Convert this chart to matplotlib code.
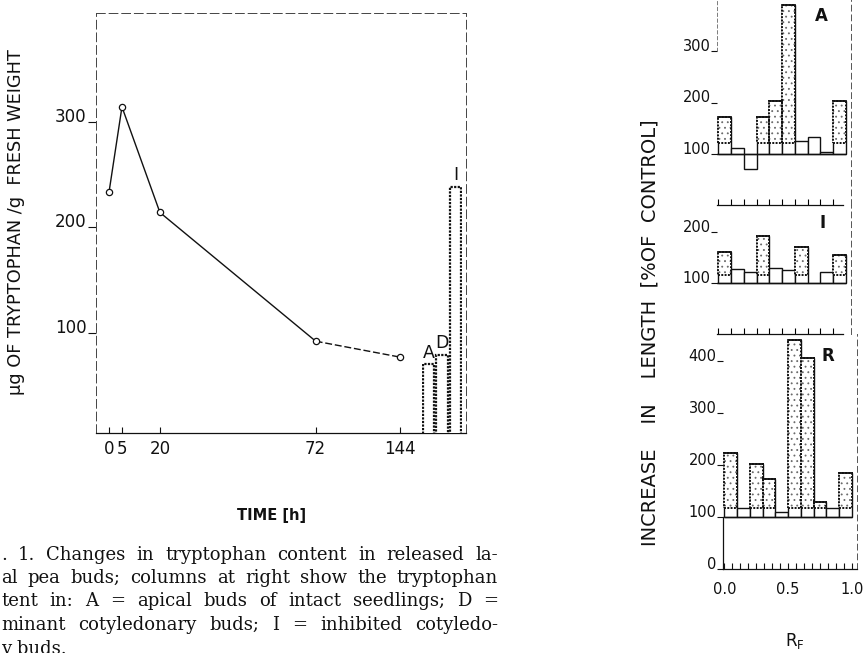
import numpy as np
import matplotlib
matplotlib.use("Agg")
from matplotlib import pyplot as plt

W, H = 865, 653

# left chart: tryptophan content of released buds
times = [0, 5, 20, 72, 144]
time_labels = ["0", "5", "20", "72", "144"]
tryptophan = [233, 314, 214, 92, 77]
bud_names = ["A", "D", "I"]
bud_tryptophan = [70, 79, 238]

# right chart: growth test of Rf zones, % of control
rf_zone = [0.0, 0.1, 0.2, 0.3, 0.4, 0.5, 0.6, 0.7, 0.8, 0.9]
apical = [172, 112, 71, 172, 202, 390, 124, 133, 104, 202]
apical_sig = [1, 0, 0, 1, 1, 1, 0, 0, 0, 1]
apical_limit = 121
inhibited = [161, 127, 122, 193, 130, 125, 171, 100, 121, 155]
inhibited_sig = [1, 0, 0, 1, 0, 0, 1, 0, 0, 1]
inhibited_limit = 116
released = [223, 117, 202, 173, 110, 440, 406, 129, 117, 185]
released_sig = [1, 0, 1, 1, 0, 1, 1, 1, 0, 1]
released_limit = 117

caption = [
    ". 1. Changes in tryptophan content in released la-",
    "al pea buds; columns at right show the tryptophan",
    "tent in: A = apical buds of intact seedlings; D =",
    "minant cotyledonary buds; I = inhibited cotyledo-",
]
caption_last = "y buds."

plt.rcParams["font.family"] = ["DejaVu Sans"]
plt.rcParams["hatch.linewidth"] = 0.6
INK = "#111111"


def box(l, t, r, b):
    return [l / W, 1 - b / H, (r - l) / W, (b - t) / H]


def baseline_labels(ax):
    # "300_" style: tick sits at the baseline of the label
    for lab in ax.get_yticklabels():
        lab.set_verticalalignment("baseline")


fig = plt.figure(figsize=(W / 100, H / 100), dpi=100)

# ---------------- left chart ----------------
T_KNOTS = [-5, 0, 5, 20, 72, 144, 202]
U_KNOTS = [0, 13, 26, 64, 220, 304, 371.7]


def fwd(t):
    return np.interp(t, T_KNOTS, U_KNOTS)


def inv(u):
    return np.interp(u, U_KNOTS, T_KNOTS)


ax = fig.add_axes(box(96, 13, 466, 433))
ax.set_xscale("function", functions=(fwd, inv))
ax.set_xlim(-5, 201)
ax.set_ylim(5, 403)

ax.plot(times[:4], tryptophan[:4], color=INK, lw=1.0)
ax.plot(times[3:], tryptophan[3:], color=INK, lw=1.0, ls=(0, (5, 2)))
ax.plot(times, tryptophan, ls="none", marker="o", ms=4.5, mfc="white",
        mec=INK, mew=0.9, zorder=3)

ax.set_xticks(times, time_labels)
ax.set_yticks([100, 200, 300])
ax.tick_params(axis="x", direction="in", length=4, width=0.8, pad=5,
               labelsize=12, colors=INK)
ax.tick_params(axis="y", direction="out", length=6, width=0.8, pad=1,
               labelsize=12, colors=INK)
baseline_labels(ax)
for side in ["top", "right", "left"]:
    ax.spines[side].set_linestyle((0, (9, 4)))
    ax.spines[side].set_linewidth(0.7)
    ax.spines[side].set_color("#444444")
ax.spines["bottom"].set_linewidth(0.9)
ax.spines["bottom"].set_color(INK)

ax.set_ylabel("µg OF TRYPTOPHAN /g  FRESH WEIGHT", fontsize=12.8, color=INK)
ax.yaxis.set_label_coords((25 - 96) / 370, (433 - 222) / 420)
ax.set_xlabel("TIME [h]", fontsize=10.5, fontweight="bold", color=INK)
ax.xaxis.set_label_coords((272 - 96) / 370, -(508 - 433) / 420)

# columns for bud types, on their own little category axis
bx = fig.add_axes(box(422, 13, 462, 433), sharey=ax)
bx.set_xlim(-0.5, 2.5)
bars = bx.bar(bud_names, bud_tryptophan, width=0.85, facecolor="white",
              edgecolor=INK, lw=1.6, ls=(0, (1, 0.6)))
for rect, name in zip(bars, bud_names):
    bx.annotate(name, (rect.get_x() + rect.get_width() / 2, rect.get_height()),
                xytext=(0, 2), textcoords="offset points", ha="center",
                va="bottom", fontsize=12.5, color=INK)
bx.axis("off")


# ---------------- right chart ----------------
def rf_panel(rect, vals, sig, limit, ymax, yticks, letter, letter_xy, left_ctrl):
    p = fig.add_axes(rect)
    p.set_xlim(-0.01, 1.04)
    p.set_ylim(0, ymax)
    p.patch.set_alpha(0)
    p.bar(rf_zone, np.array(vals) - 100, bottom=100, width=0.1, align="edge",
          facecolor="white", edgecolor=INK, lw=1.0, zorder=2)
    for x, v, s in zip(rf_zone, vals, sig):
        if s and v > limit:
            p.bar(x, v - limit, bottom=limit, width=0.1, align="edge",
                  facecolor="white", edgecolor="#6a6a6a", hatch="...", lw=0,
                  zorder=3)
            p.bar(x, v - limit, bottom=limit, width=0.1, align="edge",
                  fill=False, edgecolor=INK, lw=1.4, ls=(0, (1, 0.7)), zorder=4)
            p.plot([x, x + 0.1], [v, v], color=INK, lw=1.3, zorder=5)
    p.hlines(100, left_ctrl, 1.0, color=INK, lw=1.0, zorder=5)
    p.set_yticks(yticks)
    p.tick_params(axis="y", direction="out", length=4, width=0.8, pad=0.5,
                  labelsize=10.5, colors=INK)
    baseline_labels(p)
    p.spines["top"].set_visible(False)
    p.spines["right"].set_linestyle((0, (6, 4)))
    p.spines["right"].set_linewidth(0.7)
    p.spines["right"].set_color("#555555")
    p.spines["bottom"].set_color(INK)
    p.spines["bottom"].set_linewidth(0.9)
    fig.text(letter_xy[0] / W, 1 - letter_xy[1] / H, letter, fontsize=12,
             fontweight="bold", ha="center", va="center", color=INK)
    return p


pa = rf_panel(box(717, 0, 851, 205), apical, apical_sig, apical_limit, 400,
              [100, 200, 300], "A", (821, 16), -0.025)
pa.spines["left"].set_bounds(300, 400)
pa.spines["left"].set_linestyle((0, (4, 3)))
pa.spines["left"].set_linewidth(0.6)
pa.spines["left"].set_color("#666666")
pa.spines["bottom"].set_bounds(-0.01, 0.98)

pi = rf_panel(box(717, 205, 851, 334), inhibited, inhibited_sig, inhibited_limit,
              253, [100, 200], "I", (823, 223), -0.03)
pi.spines["left"].set_visible(False)
pi.spines["bottom"].set_bounds(-0.01, 0.98)

pr = rf_panel(box(723, 334, 857, 569), released, released_sig, released_limit,
              452, [0, 100, 200, 300, 400], "R", (828, 356), 0.0)
pr.spines["left"].set_bounds(0, 100)
pr.spines["left"].set_color(INK)
pr.spines["left"].set_linewidth(0.9)

for p in (pa, pi):
    p.set_xticks(np.arange(0, 1.0, 0.1))
    p.tick_params(axis="x", direction="in", length=4, width=0.8,
                  labelbottom=False)
pr.set_xticks([0.0, 0.5, 1.0], ["0.0", "0.5", "1.0"])
pr.set_xticks(np.arange(0, 1.01, 0.0625), minor=True)
pr.tick_params(axis="x", which="both", direction="in", length=4, width=0.8,
               pad=9, labelsize=10.5, colors=INK)

fig.text(795 / W, 1 - 641 / H, "R$_\\mathregular{F}$", fontsize=12,
         ha="center", va="center", color=INK)
fig.text(650 / W, 1 - 333 / H, "INCREASE    IN    LENGTH  [%OF  CONTROL]",
         rotation=90, fontsize=14, ha="center", va="center", color=INK)

# ---------------- caption, justified ----------------
renderer = fig.canvas.get_renderer()
cap_kw = dict(fontsize=13, family="DejaVu Serif", color=INK, va="baseline")
x0, x1 = 1, 498
for i, line in enumerate(caption):
    y = 1 - (560 + 23.2 * i) / H
    words = line.split()
    texts = [fig.text(0, y, w, **cap_kw) for w in words]
    widths = [t.get_window_extent(renderer).width for t in texts]
    gap = (x1 - x0 - sum(widths)) / (len(words) - 1)
    x = x0
    for t, w in zip(texts, widths):
        t.set_x(x / W)
        x += w + gap
fig.text(x0 / W, 1 - 654 / H, caption_last, **cap_kw)

fig.savefig("out.png", dpi=100)
